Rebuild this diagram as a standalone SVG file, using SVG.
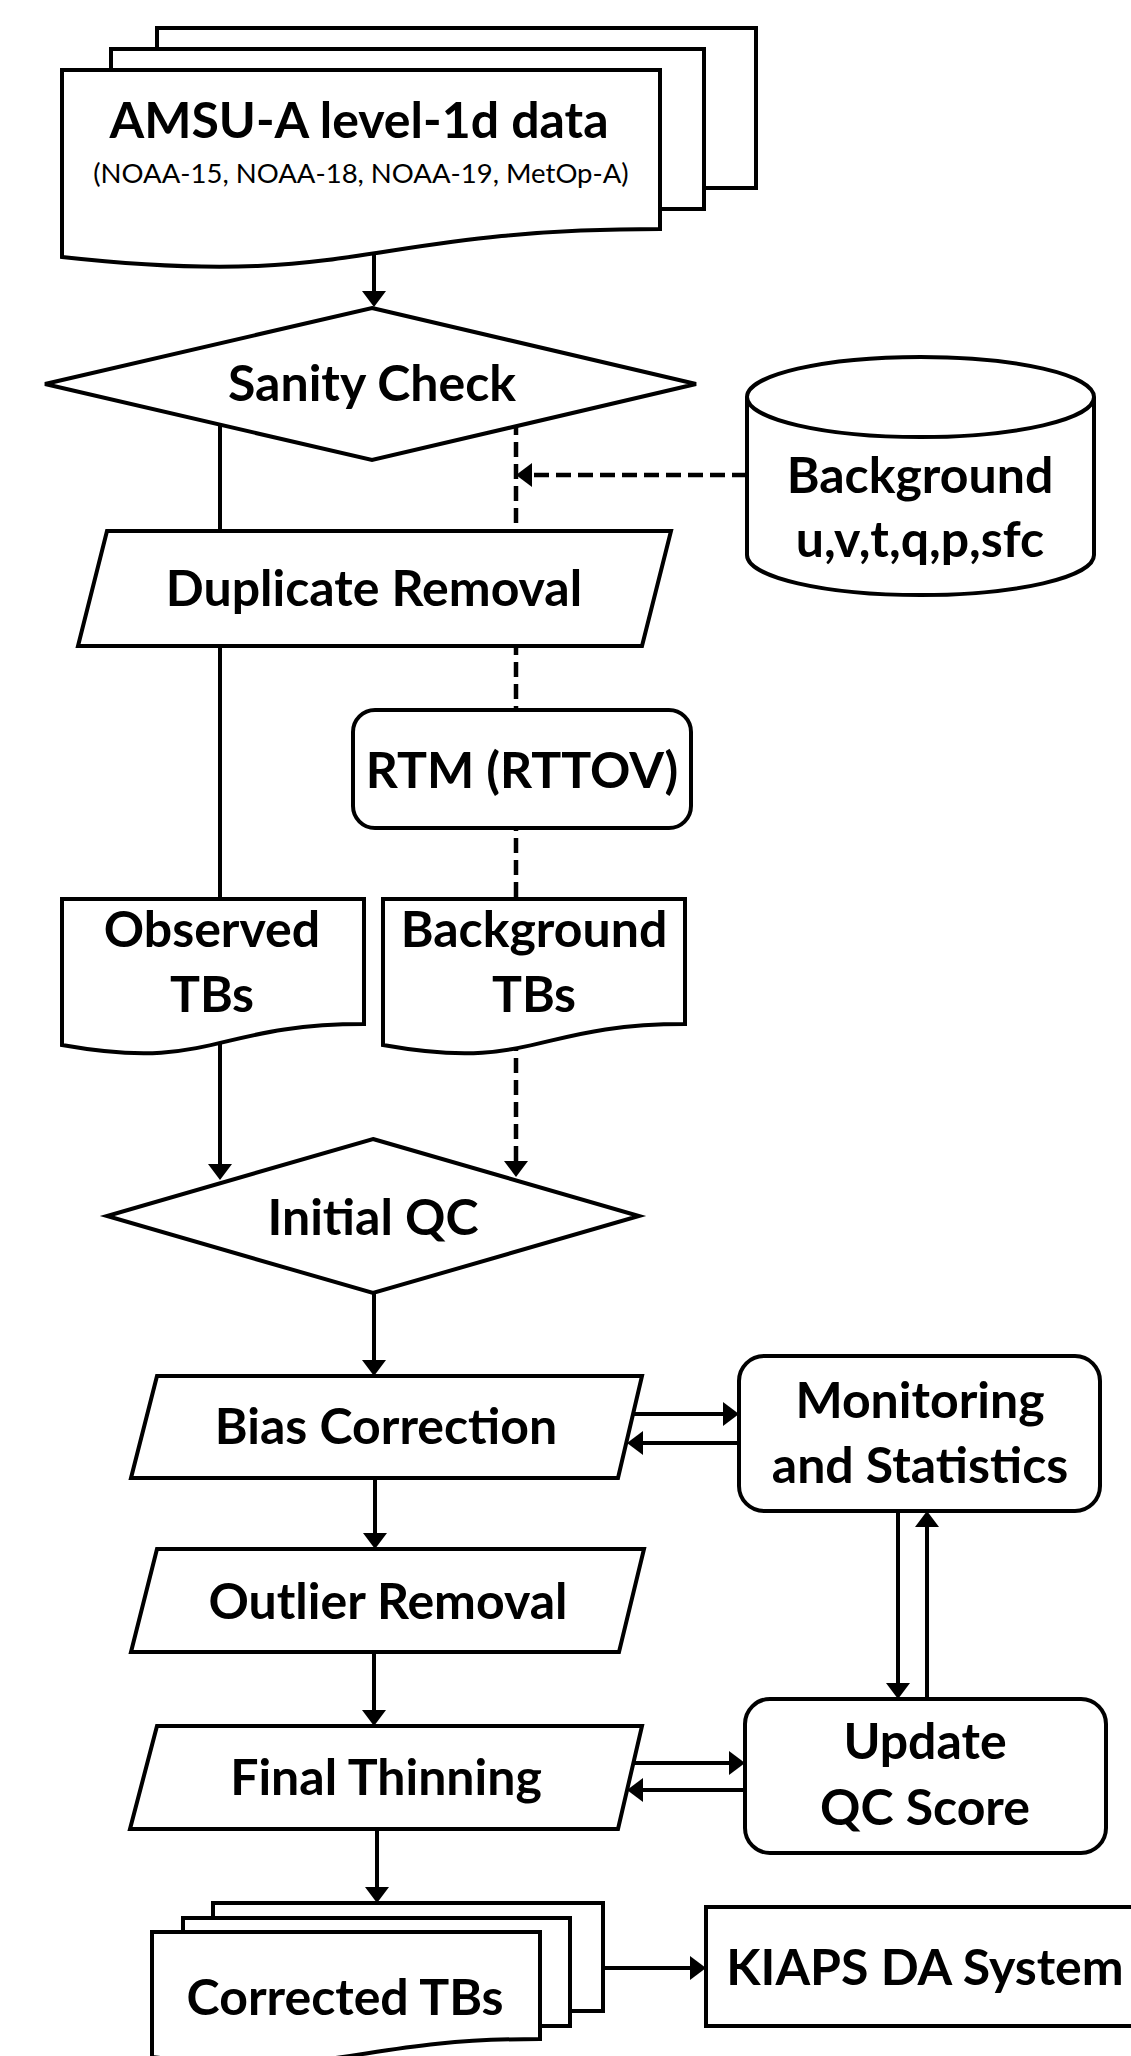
<svg xmlns="http://www.w3.org/2000/svg" width="1131" height="2056" viewBox="0 0 1131 2056">
  <style>
    .shape { fill: #ffffff; stroke: #000000; stroke-width: 4; stroke-linejoin: miter; }
    .edge { fill: none; stroke: #000000; stroke-width: 4; }
    .dash { stroke-width: 4.5; stroke-dasharray: 15 7; }
    .lbl { font-family: Lato, "Liberation Sans", sans-serif; font-weight: bold; font-size: 50px; text-anchor: middle; fill: #000000; }
    .sub { font-family: Lato, "Liberation Sans", sans-serif; font-weight: normal; font-size: 27.5px; text-anchor: middle; fill: #000000; }
  </style>
  <defs>
    <marker id="arrow" markerUnits="userSpaceOnUse" markerWidth="16" markerHeight="24" refX="6" refY="12" orient="auto">
      <path d="M0,0 L16,12 L0,24 Z" fill="#000000"/>
    </marker>
  </defs>
  <rect width="1131" height="2056" fill="#ffffff"/>

  <!-- connectors (drawn first so node fills hide the parts passing behind) -->
  <g id="connectors">
    <path class="edge" d="M374,250 V297" marker-end="url(#arrow)"/>
    <path class="edge" d="M220,420 V1170" marker-end="url(#arrow)"/>
    <path class="edge dash" d="M516,420 V1167" marker-end="url(#arrow)"/>
    <path class="edge dash" d="M747,475 H526" marker-end="url(#arrow)"/>
    <path class="edge" d="M374,1293 V1366" marker-end="url(#arrow)"/>
    <path class="edge" d="M375,1478 V1539" marker-end="url(#arrow)"/>
    <path class="edge" d="M374,1652 V1716" marker-end="url(#arrow)"/>
    <path class="edge" d="M377,1829 V1893" marker-end="url(#arrow)"/>
    <path class="edge" d="M633,1414 H729" marker-end="url(#arrow)"/>
    <path class="edge" d="M739,1443 H637" marker-end="url(#arrow)"/>
    <path class="edge" d="M898,1511 V1689" marker-end="url(#arrow)"/>
    <path class="edge" d="M927,1699 V1521" marker-end="url(#arrow)"/>
    <path class="edge" d="M633,1763 H735" marker-end="url(#arrow)"/>
    <path class="edge" d="M745,1790 H637" marker-end="url(#arrow)"/>
    <path class="edge" d="M603,1968 H696" marker-end="url(#arrow)"/>
  </g>

  <!-- input data: stacked documents -->
  <g id="amsu-data">
    <rect class="shape" x="157" y="28" width="599" height="160"/>
    <rect class="shape" x="111" y="49" width="593" height="160"/>
    <path class="shape" d="M62,70 H660 V229 C361,229 361,290 62,257 Z"/>
    <text class="lbl" x="359" y="138">AMSU-A level-1d data</text>
    <text class="sub" x="361" y="183">(NOAA-15, NOAA-18, NOAA-19, MetOp-A)</text>
  </g>

  <g id="sanity-check">
    <path class="shape" d="M372,308 L696,384 L372,460 L45,384 Z"/>
    <text class="lbl" x="372" y="401">Sanity Check</text>
  </g>

  <g id="background-db">
    <path class="shape" d="M747,397 A173,40 0 0 1 1094,397 V555 A173,40 0 0 1 747,555 Z"/>
    <path class="shape" d="M747,397 A173,40 0 0 0 1094,397" fill="none"/>
    <text class="lbl" x="920" y="493">Background</text>
    <text class="lbl" x="920" y="557">u,v,t,q,p,sfc</text>
  </g>

  <g id="duplicate-removal">
    <path class="shape" d="M107,531 H671 L642,646 H78 Z"/>
    <text class="lbl" x="374" y="606">Duplicate Removal</text>
  </g>

  <g id="rtm">
    <rect class="shape" x="353" y="710" width="338" height="118" rx="22" ry="22"/>
    <text class="lbl" x="522" y="788">RTM (RTTOV)</text>
  </g>

  <g id="observed-tbs">
    <path class="shape" d="M62,899 H364 V1024 C213,1024 213,1072 62,1045 Z"/>
    <text class="lbl" x="212" y="947">Observed</text>
    <text class="lbl" x="212" y="1012">TBs</text>
  </g>

  <g id="background-tbs">
    <path class="shape" d="M383,899 H685 V1024 C534,1024 534,1072 383,1045 Z"/>
    <text class="lbl" x="534" y="947">Background</text>
    <text class="lbl" x="534" y="1012">TBs</text>
  </g>

  <g id="initial-qc">
    <path class="shape" d="M373,1139 L639,1216 L373,1293 L107,1216 Z"/>
    <text class="lbl" x="373" y="1235">Initial QC</text>
  </g>

  <g id="bias-correction">
    <path class="shape" d="M157,1376 H642 L618,1478 H131 Z"/>
    <text class="lbl" x="386" y="1444">Bias Correction</text>
  </g>

  <g id="monitoring">
    <rect class="shape" x="739" y="1356" width="361" height="155" rx="25" ry="25"/>
    <text class="lbl" x="920" y="1418">Monitoring</text>
    <text class="lbl" x="920" y="1483">and Statistics</text>
  </g>

  <g id="outlier-removal">
    <path class="shape" d="M157,1549 H644 L619,1652 H131 Z"/>
    <text class="lbl" x="388" y="1619">Outlier Removal</text>
  </g>

  <g id="final-thinning">
    <path class="shape" d="M157,1726 H642 L618,1829 H130 Z"/>
    <text class="lbl" x="386" y="1795">Final Thinning</text>
  </g>

  <g id="update-qc">
    <rect class="shape" x="745" y="1699" width="361" height="154" rx="25" ry="25"/>
    <text class="lbl" x="925" y="1759">Update</text>
    <text class="lbl" x="925" y="1825">QC Score</text>
  </g>

  <g id="corrected-tbs">
    <rect class="shape" x="213" y="1903" width="390" height="108"/>
    <rect class="shape" x="183" y="1918" width="387" height="108"/>
    <path class="shape" d="M152,1932 H540 V2039 C346,2039 346,2080 152,2057 Z"/>
    <text class="lbl" x="345" y="2015">Corrected TBs</text>
  </g>

  <g id="kiaps-da">
    <rect class="shape" x="706" y="1907" width="440" height="119"/>
    <text class="lbl" x="925" y="1985">KIAPS DA System</text>
  </g>
</svg>
